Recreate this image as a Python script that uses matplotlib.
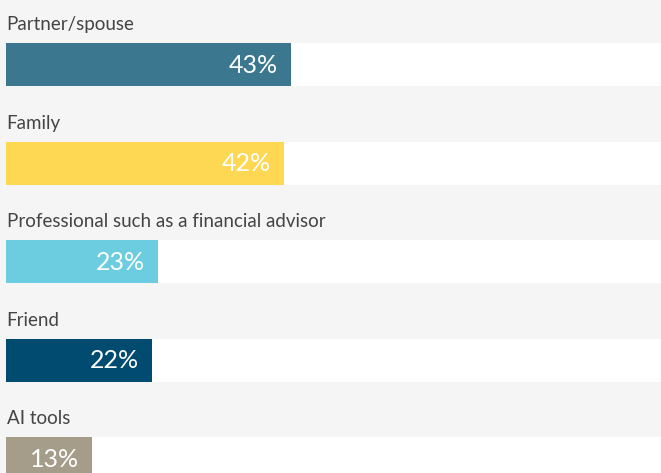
import matplotlib.pyplot as plt

categories = ["Partner/spouse", "Family", "Professional such as a financial advisor",
              "Friend", "AI tools"]
values = [43, 42, 23, 22, 13]
colors = ["#3b778f", "#fed753", "#6dcde0", "#004b6f", "#a59c89"]

W, H = 661, 473
BG = "#f4f5f4"

fig = plt.figure(figsize=(W / 100, H / 100), dpi=100, facecolor=BG)
ax = fig.add_axes([6 / W, 0, 1 - 6 / W, 1])
ax.set_facecolor(BG)

# one row = 98.5 px, bar 43 px, first bar centre at 64.5 px
row_px = 98.5
bar_h = 43 / row_px
ax.set_ylim((H - 64.5) / row_px, -64.5 / row_px)
ax.set_xlim(0, (W - 6) / 6.63)

for i, (cat, val, col) in enumerate(zip(categories, values, colors)):
    # white track behind each bar, running off the right edge
    ax.barh(i, 200, height=bar_h, color="white", left=0)
    ax.barh(i, val, height=bar_h, color=col)
    ax.text(0.1, i - 0.35, cat, ha="left", va="baseline", fontsize=13.5,
            family="Lato", fontweight="normal", color="#444444")
    ax.text(val - 2.0, i + 0.085, f"{val}%", ha="right", va="baseline",
            fontsize=18, family="Lato", fontweight="normal", color="white")

ax.axis("off")
fig.savefig("out.png", dpi=100, facecolor=BG)
